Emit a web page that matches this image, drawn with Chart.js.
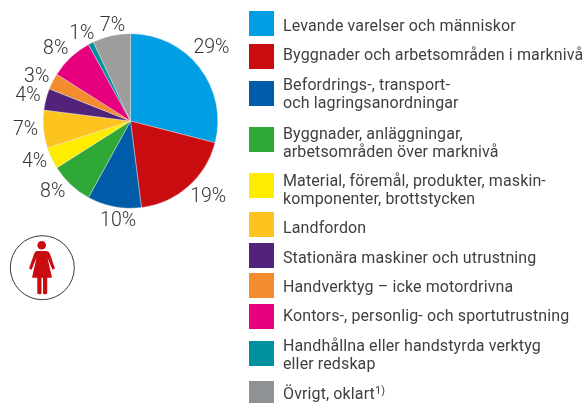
<!DOCTYPE html>
<html lang="sv"><head><meta charset="utf-8">
<script src="https://cdn.jsdelivr.net/npm/chart.js@4"></script>
<style>
html,body{margin:0;padding:0;background:#fff;overflow:hidden}
#wrap{position:relative;width:585px;height:403px;overflow:hidden}
canvas{position:absolute;left:0;top:0}
.sw{position:absolute;left:249px;width:25px;height:25px}
.tx{position:absolute;left:283px;font:16px/18px Roboto,sans-serif;letter-spacing:.12px;color:#3f3f3f;white-space:pre;transform:translateY(-8px)}
.tx sup{font-size:11px;line-height:0;vertical-align:5px}
svg{position:absolute;left:0;top:0}
</style></head><body>
<div id="wrap"><canvas id="c" width="585" height="403"></canvas>
<svg width="585" height="403"><circle cx="42.3" cy="267.7" r="32" fill="none" stroke="#3a3a3a" stroke-width="1"/>
<g fill="#c90c0f"><circle cx="41.7" cy="245.3" r="4.3"/>
<path d="M37 251h9.500q2.500 0 3.300 2.500L55 268.500l-2.600 1.200-4.900-12 4.500 20H32l4.500-20-4.900 12-2.600-1.200 5.200-15q.8-2.500 2.800-2.500z"/>
<rect x="37.300" y="276" width="4.200" height="18.300" rx="1.200"/><rect x="43" y="276" width="4.200" height="18.300" rx="1.200"/></g></svg>
</div>
<script>
const categories=["Levande varelser och människor","Byggnader och arbetsområden i marknivå","Befordrings-, transport-\noch lagringsanordningar","Byggnader, anläggningar,\narbetsområden över marknivå","Material, föremål, produkter, maskin-\nkomponenter, brottstycken","Landfordon","Stationära maskiner och utrustning","Handverktyg – icke motordrivna","Kontors-, personlig- och sportutrustning","Handhållna eller handstyrda verktyg\neller redskap","Övrigt, oklart"];
const values=[29,19,10,8,4,7,4,3,8,1,7];
const colors=["#009fe3","#c90c0f","#005ca9","#30a838","#ffed00","#fdc41f","#52237a","#f28c2e","#e6007e","#00919f","#9d9d9c"];
const swatchColors=["#009fe3","#c90c0f","#005ca9","#30a838","#ffed00","#fdc41f","#52237a","#f28c2e","#e6007e","#00919f","#8f9295"];
const swatchTops=[11,44,81,127,173,212,243,273,304,341,381];
const textMiddles=[25,54,93,142,189,227,257,286,315,354,393];
const labelShift=[[12,-19],[20,11],[4,14],[-18,7],[-17,4],[-18,1],[-18,-3],[-16,-4],[-15,-8],[-9,-9],[1,-10]];
const wrap=document.getElementById('wrap');
categories.forEach((t,i)=>{
  const s=document.createElement('div');s.className='sw';s.style.top=swatchTops[i]+'px';s.style.background=swatchColors[i];wrap.appendChild(s);
  const d=document.createElement('div');d.className='tx';d.style.top=(textMiddles[i]-(t.includes('\n')?9:0))+'px';d.textContent=t;
  if(i===10){const u=document.createElement('sup');u.textContent='1)';d.appendChild(u);}
  wrap.appendChild(d);
});
const pctLabels={id:'pctLabels',afterDatasetsDraw(ch){
  const g=ch.ctx;g.save();g.font='300 19.5px Roboto,sans-serif';g.fillStyle='#333';g.textAlign='center';g.textBaseline='middle';
  ch.getDatasetMeta(0).data.forEach((a,i)=>{
    const m=(a.startAngle+a.endAngle)/2;
    g.fillText(values[i]+'%',a.x+Math.cos(m)*a.outerRadius+labelShift[i][0],a.y+Math.sin(m)*a.outerRadius+labelShift[i][1]);
  });g.restore();}};
new Chart(document.getElementById('c'),{type:'pie',data:{labels:categories,datasets:[{data:values,backgroundColor:colors,borderColor:'#e8e8e8',borderWidth:0.4}]},
options:{responsive:false,animation:false,layout:{padding:{left:43,right:367,top:33.5,bottom:194.5}},plugins:{legend:{display:false},tooltip:{enabled:false}}},plugins:[pctLabels]});
</script></body></html>
